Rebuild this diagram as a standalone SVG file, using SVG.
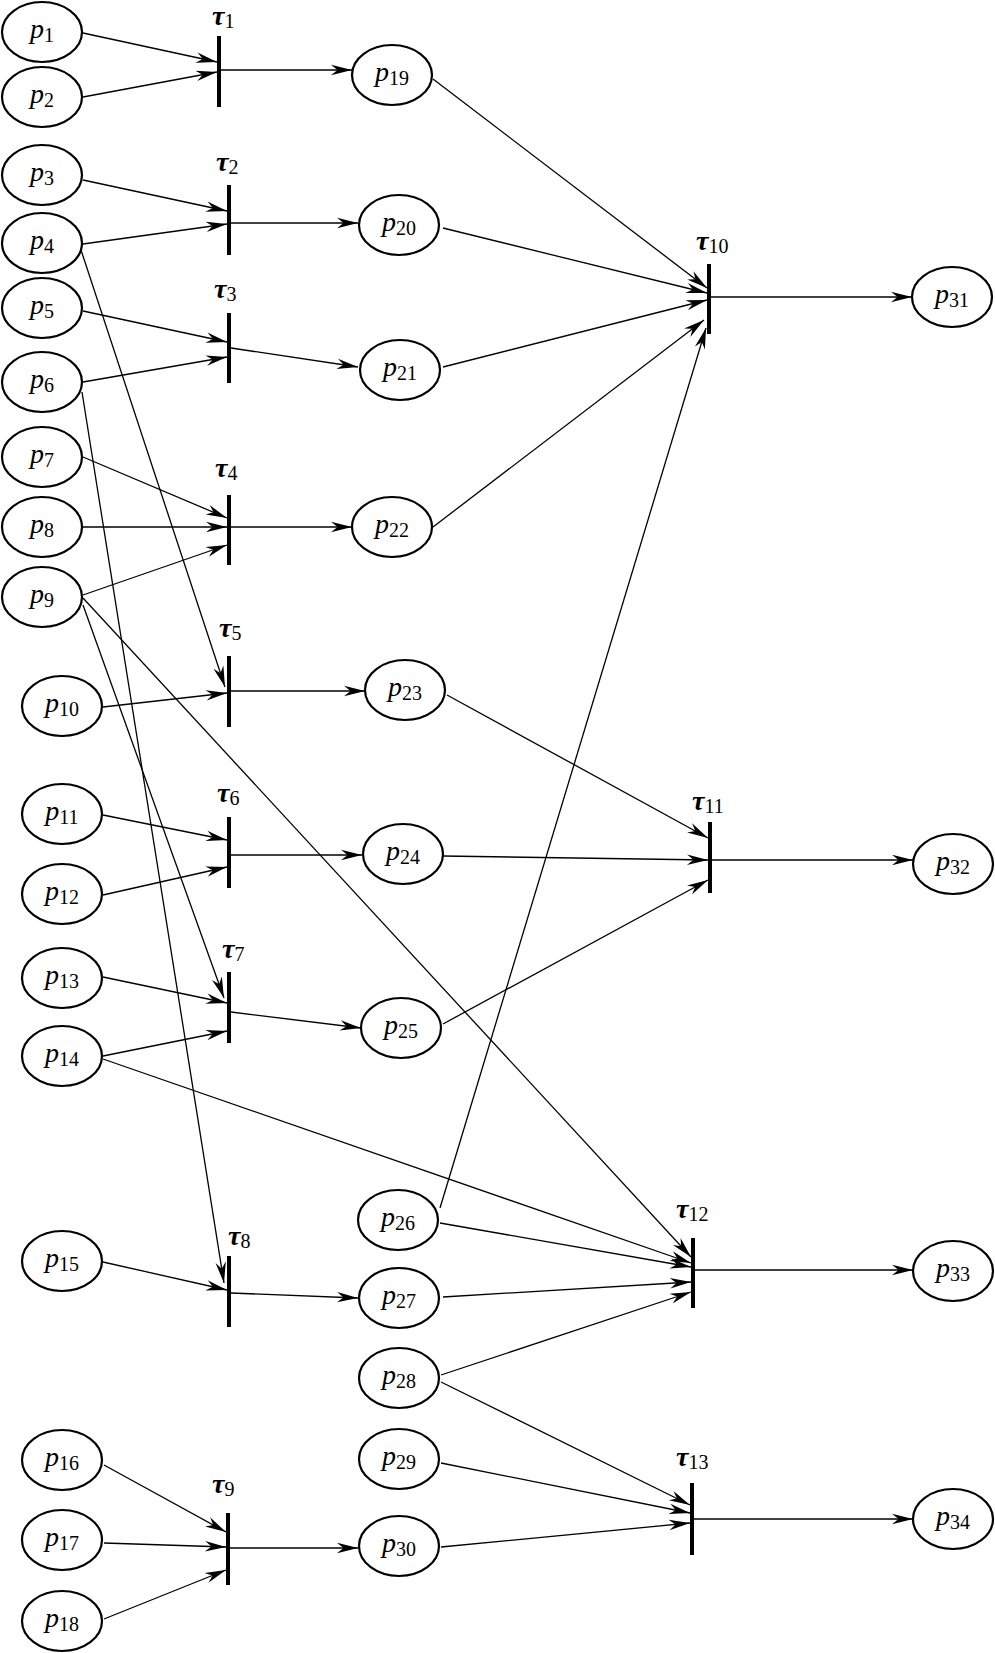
<svg xmlns="http://www.w3.org/2000/svg" width="995" height="1653" viewBox="0 0 995 1653">
<style>
.pl ellipse{fill:#fff;stroke:#000;stroke-width:2.2}
.pl text,.tr text{font-family:"Liberation Serif","Times New Roman",serif;fill:#000}
.pl text{font-size:28px;font-style:italic;text-anchor:middle}
.tr text{font-size:28px;font-style:italic;font-weight:bold}
.sub{font-size:20px;font-style:normal;font-weight:normal}
.tr line{stroke:#000;stroke-width:4}
#connectors line{stroke:#000;stroke-width:1.3;fill:none;marker-end:url(#arr)}
</style>
<defs>
<marker id="arr" markerUnits="userSpaceOnUse" markerWidth="22" markerHeight="12" refX="21" refY="6" orient="auto" viewBox="0 0 22 12" overflow="visible">
<path d="M21,6 L0,0.8 L6.5,6 L0,11.2 Z" fill="#000"/>
</marker>
</defs>
<rect width="995" height="1653" fill="#fff"/>
<g id="connectors">
<line x1="83" y1="33" x2="217" y2="62"/>
<line x1="83" y1="97" x2="217" y2="72"/>
<line x1="221" y1="70" x2="352" y2="70"/>
<line x1="83" y1="180" x2="227" y2="211"/>
<line x1="83" y1="244" x2="227" y2="224"/>
<line x1="231" y1="223" x2="358" y2="223"/>
<line x1="83" y1="311" x2="227" y2="342"/>
<line x1="83" y1="382" x2="227" y2="357"/>
<line x1="231" y1="348" x2="358" y2="367"/>
<line x1="83" y1="457" x2="227" y2="518"/>
<line x1="83" y1="527" x2="227" y2="527"/>
<line x1="83" y1="595" x2="227" y2="545"/>
<line x1="231" y1="527" x2="352" y2="527"/>
<line x1="81" y1="250" x2="225" y2="687"/>
<line x1="103" y1="707" x2="227" y2="693"/>
<line x1="231" y1="691" x2="365" y2="691"/>
<line x1="103" y1="815" x2="227" y2="840"/>
<line x1="103" y1="895" x2="227" y2="867"/>
<line x1="231" y1="855" x2="362" y2="855"/>
<line x1="83" y1="605" x2="224" y2="998"/>
<line x1="103" y1="977" x2="227" y2="1003"/>
<line x1="103" y1="1056" x2="227" y2="1031"/>
<line x1="231" y1="1012" x2="361" y2="1028"/>
<line x1="82" y1="392" x2="224" y2="1283"/>
<line x1="103" y1="1262" x2="227" y2="1290"/>
<line x1="231" y1="1293" x2="358" y2="1298"/>
<line x1="104" y1="1465" x2="226" y2="1532"/>
<line x1="104" y1="1543" x2="226" y2="1547"/>
<line x1="104" y1="1619" x2="226" y2="1570"/>
<line x1="230" y1="1548" x2="358" y2="1548"/>
<line x1="433" y1="79" x2="707" y2="288"/>
<line x1="443" y1="228" x2="707" y2="293"/>
<line x1="443" y1="367" x2="707" y2="300"/>
<line x1="433" y1="527" x2="704" y2="320"/>
<line x1="440" y1="1208" x2="706" y2="328"/>
<line x1="711" y1="297" x2="912" y2="297"/>
<line x1="447" y1="695" x2="708" y2="838"/>
<line x1="443" y1="856" x2="708" y2="860"/>
<line x1="443" y1="1024" x2="708" y2="880"/>
<line x1="712" y1="860" x2="913" y2="860"/>
<line x1="83" y1="598" x2="691" y2="1257"/>
<line x1="103" y1="1059" x2="691" y2="1263"/>
<line x1="440" y1="1223" x2="691" y2="1267"/>
<line x1="443" y1="1297" x2="691" y2="1282"/>
<line x1="441" y1="1375" x2="691" y2="1292"/>
<line x1="695" y1="1270" x2="913" y2="1270"/>
<line x1="441" y1="1382" x2="690" y2="1505"/>
<line x1="441" y1="1463" x2="690" y2="1513"/>
<line x1="441" y1="1547" x2="690" y2="1523"/>
<line x1="694" y1="1519" x2="913" y2="1519"/>
</g>
<g id="p1" class="pl"><ellipse cx="42" cy="32" rx="40" ry="30"/><text x="42" y="38">p<tspan class="sub" dy="4">1</tspan></text></g>
<g id="p2" class="pl"><ellipse cx="42" cy="97" rx="40" ry="30"/><text x="42" y="103">p<tspan class="sub" dy="4">2</tspan></text></g>
<g id="p3" class="pl"><ellipse cx="42" cy="175" rx="40" ry="30"/><text x="42" y="181">p<tspan class="sub" dy="4">3</tspan></text></g>
<g id="p4" class="pl"><ellipse cx="42" cy="243" rx="40" ry="30"/><text x="42" y="249">p<tspan class="sub" dy="4">4</tspan></text></g>
<g id="p5" class="pl"><ellipse cx="42" cy="308" rx="40" ry="30"/><text x="42" y="314">p<tspan class="sub" dy="4">5</tspan></text></g>
<g id="p6" class="pl"><ellipse cx="42" cy="382" rx="40" ry="30"/><text x="42" y="388">p<tspan class="sub" dy="4">6</tspan></text></g>
<g id="p7" class="pl"><ellipse cx="42" cy="457" rx="40" ry="30"/><text x="42" y="463">p<tspan class="sub" dy="4">7</tspan></text></g>
<g id="p8" class="pl"><ellipse cx="42" cy="527" rx="40" ry="30"/><text x="42" y="533">p<tspan class="sub" dy="4">8</tspan></text></g>
<g id="p9" class="pl"><ellipse cx="42" cy="597" rx="40" ry="30"/><text x="42" y="603">p<tspan class="sub" dy="4">9</tspan></text></g>
<g id="p10" class="pl"><ellipse cx="62" cy="706" rx="40" ry="30"/><text x="62" y="712">p<tspan class="sub" dy="4">10</tspan></text></g>
<g id="p11" class="pl"><ellipse cx="62" cy="814" rx="40" ry="30"/><text x="62" y="820">p<tspan class="sub" dy="4">11</tspan></text></g>
<g id="p12" class="pl"><ellipse cx="62" cy="894" rx="40" ry="30"/><text x="62" y="900">p<tspan class="sub" dy="4">12</tspan></text></g>
<g id="p13" class="pl"><ellipse cx="62" cy="978" rx="40" ry="30"/><text x="62" y="984">p<tspan class="sub" dy="4">13</tspan></text></g>
<g id="p14" class="pl"><ellipse cx="62" cy="1056" rx="40" ry="30"/><text x="62" y="1062">p<tspan class="sub" dy="4">14</tspan></text></g>
<g id="p15" class="pl"><ellipse cx="62" cy="1261" rx="40" ry="30"/><text x="62" y="1267">p<tspan class="sub" dy="4">15</tspan></text></g>
<g id="p16" class="pl"><ellipse cx="62" cy="1460" rx="40" ry="30"/><text x="62" y="1466">p<tspan class="sub" dy="4">16</tspan></text></g>
<g id="p17" class="pl"><ellipse cx="62" cy="1540" rx="40" ry="30"/><text x="62" y="1546">p<tspan class="sub" dy="4">17</tspan></text></g>
<g id="p18" class="pl"><ellipse cx="62" cy="1621" rx="40" ry="30"/><text x="62" y="1627">p<tspan class="sub" dy="4">18</tspan></text></g>
<g id="p19" class="pl"><ellipse cx="392" cy="75" rx="40" ry="30"/><text x="392" y="81">p<tspan class="sub" dy="4">19</tspan></text></g>
<g id="p20" class="pl"><ellipse cx="399" cy="225" rx="40" ry="30"/><text x="399" y="231">p<tspan class="sub" dy="4">20</tspan></text></g>
<g id="p21" class="pl"><ellipse cx="400" cy="370" rx="40" ry="30"/><text x="400" y="376">p<tspan class="sub" dy="4">21</tspan></text></g>
<g id="p22" class="pl"><ellipse cx="392" cy="527" rx="40" ry="30"/><text x="392" y="533">p<tspan class="sub" dy="4">22</tspan></text></g>
<g id="p23" class="pl"><ellipse cx="405" cy="690" rx="40" ry="30"/><text x="405" y="696">p<tspan class="sub" dy="4">23</tspan></text></g>
<g id="p24" class="pl"><ellipse cx="403" cy="854" rx="40" ry="30"/><text x="403" y="860">p<tspan class="sub" dy="4">24</tspan></text></g>
<g id="p25" class="pl"><ellipse cx="401" cy="1028" rx="40" ry="30"/><text x="401" y="1034">p<tspan class="sub" dy="4">25</tspan></text></g>
<g id="p26" class="pl"><ellipse cx="398" cy="1220" rx="40" ry="30"/><text x="398" y="1226">p<tspan class="sub" dy="4">26</tspan></text></g>
<g id="p27" class="pl"><ellipse cx="399" cy="1298" rx="40" ry="30"/><text x="399" y="1304">p<tspan class="sub" dy="4">27</tspan></text></g>
<g id="p28" class="pl"><ellipse cx="399" cy="1378" rx="40" ry="30"/><text x="399" y="1384">p<tspan class="sub" dy="4">28</tspan></text></g>
<g id="p29" class="pl"><ellipse cx="399" cy="1459" rx="40" ry="30"/><text x="399" y="1465">p<tspan class="sub" dy="4">29</tspan></text></g>
<g id="p30" class="pl"><ellipse cx="399" cy="1546" rx="40" ry="30"/><text x="399" y="1552">p<tspan class="sub" dy="4">30</tspan></text></g>
<g id="p31" class="pl"><ellipse cx="952" cy="297" rx="40" ry="30"/><text x="952" y="303">p<tspan class="sub" dy="4">31</tspan></text></g>
<g id="p32" class="pl"><ellipse cx="953" cy="864" rx="40" ry="30"/><text x="953" y="870">p<tspan class="sub" dy="4">32</tspan></text></g>
<g id="p33" class="pl"><ellipse cx="953" cy="1271" rx="40" ry="30"/><text x="953" y="1277">p<tspan class="sub" dy="4">33</tspan></text></g>
<g id="p34" class="pl"><ellipse cx="953" cy="1519" rx="40" ry="30"/><text x="953" y="1525">p<tspan class="sub" dy="4">34</tspan></text></g>
<g id="t1" class="tr"><line x1="219" y1="36" x2="219" y2="107"/><text x="212" y="25">τ<tspan class="sub" dy="3">1</tspan></text></g>
<g id="t2" class="tr"><line x1="229" y1="185" x2="229" y2="255"/><text x="216" y="171">τ<tspan class="sub" dy="3">2</tspan></text></g>
<g id="t3" class="tr"><line x1="229" y1="313" x2="229" y2="383"/><text x="214" y="298">τ<tspan class="sub" dy="3">3</tspan></text></g>
<g id="t4" class="tr"><line x1="229" y1="495" x2="229" y2="565"/><text x="215" y="477">τ<tspan class="sub" dy="3">4</tspan></text></g>
<g id="t5" class="tr"><line x1="229" y1="656" x2="229" y2="727"/><text x="219" y="637">τ<tspan class="sub" dy="3">5</tspan></text></g>
<g id="t6" class="tr"><line x1="229" y1="817" x2="229" y2="888"/><text x="217" y="802">τ<tspan class="sub" dy="3">6</tspan></text></g>
<g id="t7" class="tr"><line x1="229" y1="972" x2="229" y2="1043"/><text x="222" y="958">τ<tspan class="sub" dy="3">7</tspan></text></g>
<g id="t8" class="tr"><line x1="229" y1="1256" x2="229" y2="1327"/><text x="228" y="1245">τ<tspan class="sub" dy="3">8</tspan></text></g>
<g id="t9" class="tr"><line x1="228" y1="1513" x2="228" y2="1585"/><text x="212" y="1493">τ<tspan class="sub" dy="3">9</tspan></text></g>
<g id="t10" class="tr"><line x1="709" y1="264" x2="709" y2="334"/><text x="696" y="250">τ<tspan class="sub" dy="3">10</tspan></text></g>
<g id="t11" class="tr"><line x1="710" y1="822" x2="710" y2="893"/><text x="692" y="810">τ<tspan class="sub" dy="3">11</tspan></text></g>
<g id="t12" class="tr"><line x1="693" y1="1238" x2="693" y2="1308"/><text x="676" y="1218">τ<tspan class="sub" dy="3">12</tspan></text></g>
<g id="t13" class="tr"><line x1="692" y1="1483" x2="692" y2="1555"/><text x="676" y="1466">τ<tspan class="sub" dy="3">13</tspan></text></g>
</svg>
